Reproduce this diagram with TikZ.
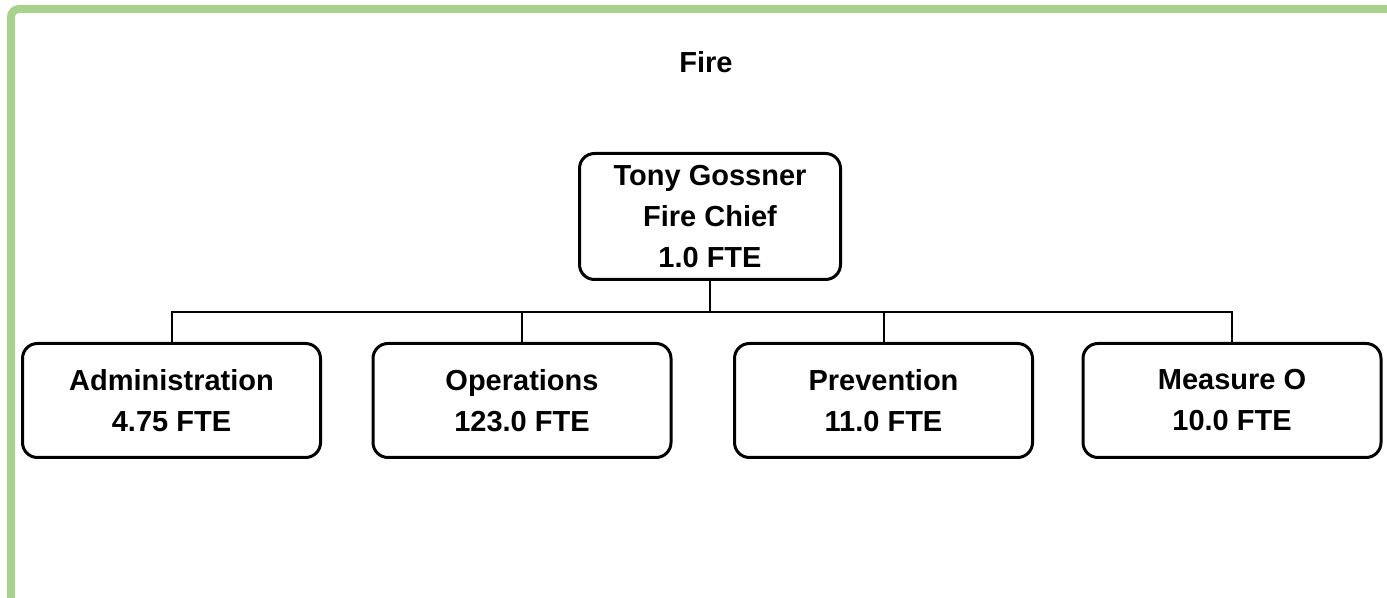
\documentclass[tikz,border=0pt]{standalone}
\usepackage{fontspec}
\setmainfont{Liberation Sans}
\usetikzlibrary{positioning}
\usetikzlibrary{calc}

\definecolor{framegreen}{RGB}{169,209,142}

\tikzset{
    unit/.style={draw, line width=1.5pt, rounded corners=7.5pt, align=center, inner sep=0pt,
        font=\bfseries\fontsize{14.5}{20.5}\selectfont, minimum width=149pt, minimum height=57pt},
    chief/.style={unit, minimum width=130.5pt, minimum height=63pt},
    link/.style={draw, line width=1pt}
}

\begin{document}
\begin{tikzpicture}[x=0.5pt, y=-0.5pt]

\useasboundingbox (0,0) rectangle (1387,598);
\clip (0,0) rectangle (1387,598);

% frame
\path[draw, line width=4pt, framegreen, rounded corners=4pt] (11,620) -- (11,9) -- (1410,9);

\node[font=\bfseries\fontsize{14.5}{17}\selectfont] (title) at (706,62) {Fire};

\node[chief] (chief) at (710,216.5) {Tony Gossner\\Fire Chief\\1.0 FTE};

\coordinate (bus) at (710,312);

\node[unit] (admin) at (171.5,400.5) {Administration\\4.75 FTE};
\node[unit] (ops) at (522,400.5) {Operations\\123.0 FTE};
\node[unit] (prev) at (883.5,400.5) {Prevention\\11.0 FTE};
\node[unit] (measure) at (1232,400.5) {Measure O\\10.0 FTE};

\path[link] (chief.south) -- (bus);
\foreach \n in {admin, ops, prev, measure}
    \path[link] (\n.north) |- (bus);

\end{tikzpicture}
\end{document}
